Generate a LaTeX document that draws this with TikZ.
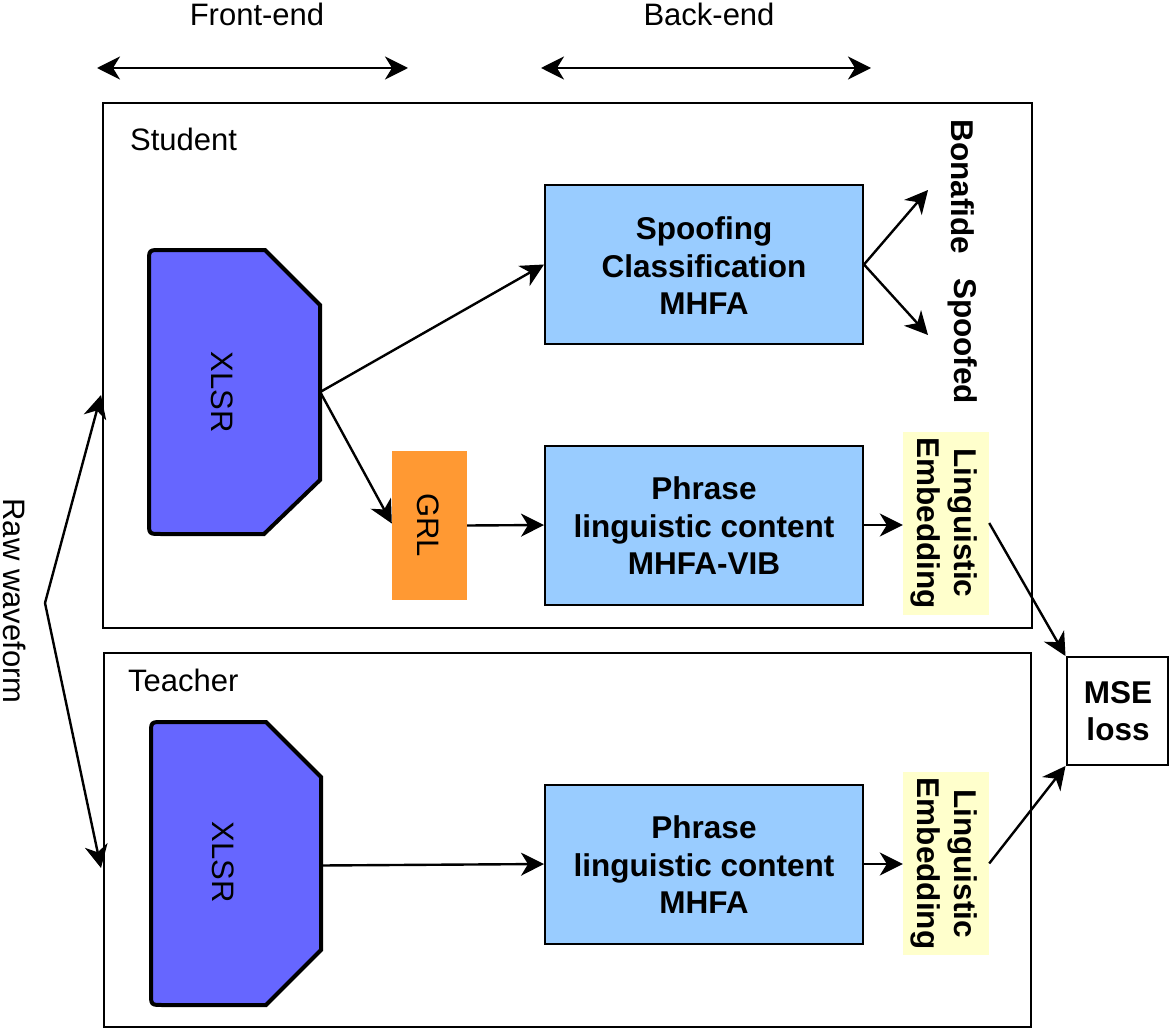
\documentclass[tikz,border=0pt]{standalone}
\usepackage{fontspec}
\setmainfont{Liberation Sans}
\usetikzlibrary{arrows.meta,calc}
\definecolor{xlsrblue}{HTML}{6666FF}
\definecolor{lightblue}{HTML}{99CCFF}
\definecolor{grlorange}{HTML}{FF9933}
\definecolor{embyellow}{HTML}{FFFFCC}
\begin{document}
\begin{tikzpicture}[x=1pt,y=-1pt,
  txt/.style={font=\fontsize{31}{37}\selectfont, inner sep=0pt},
  btxt/.style={font=\bfseries\fontsize{31.5}{37.5}\selectfont, align=center, inner sep=0pt},
  frame/.style={draw, line width=2.5pt},
  blue box/.style={draw, line width=2pt, fill=lightblue, minimum width=318pt, minimum height=159pt, inner sep=0pt},
  emb/.style={fill=embyellow, minimum width=86pt, minimum height=183pt, inner sep=0pt},
  xlsrshape/.style={draw, line width=4pt, fill=xlsrblue, line join=miter},
  arr/.style={line width=2.4pt, -{Stealth[length=23pt,width=23pt,inset=7pt]}},
  darr/.style={line width=2.4pt, {Stealth[length=23pt,width=23pt,inset=7pt]}-{Stealth[length=23pt,width=23pt,inset=7pt]}}
]
\useasboundingbox[fill=white] (0,0) rectangle (1170,1030);

% top labels and extent arrows
\node[txt] (fe) at (257,14) {Front-end};
\node[txt] (be) at (709,14) {Back-end};
\coordinate (feL) at (97,68);
\coordinate (feR) at (408,68);
\coordinate (beL) at (541,68);
\coordinate (beR) at (871,68);
\draw[darr] (feL) -- (feR);
\draw[darr] (beL) -- (beR);

% frames
\node[frame, minimum width=929pt, minimum height=525pt, inner sep=0pt] (student) at (567.5,365.5) {};
\node[frame, minimum width=927pt, minimum height=374pt, inner sep=0pt] (teacher) at (567.5,840) {};
\node[txt, anchor=west] (stl) at (130,139) {Student};
\node[txt, anchor=west] (tel) at (128,680) {Teacher};

% student XLSR
\draw[xlsrshape] (161,534) .. controls (149,534) .. (149,522) -- (149,262)
  .. controls (149,250) .. (161,250) -- (265,250) -- (320,305) -- (320,480) -- (264,534) -- cycle;
\node[minimum width=171pt, minimum height=284pt, inner sep=0pt] (xs) at (234.5,392) {};
\node[txt, rotate=-90] (xslabel) at (222,392) {XLSR};

% teacher XLSR
\draw[xlsrshape] (163,1005) .. controls (151,1005) .. (151,993) -- (151,734)
  .. controls (151,722) .. (163,722) -- (266,722) -- (321,777) -- (321,950) -- (266,1005) -- cycle;
\node[minimum width=170pt, minimum height=283pt, inner sep=0pt] (xt) at (236,863.5) {};
\node[txt, rotate=-90] (xtlabel) at (223,862) {XLSR};

% back-end boxes
\node[blue box] (spoof) at (704,264.5) {};
\node[btxt] at (704,266) {Spoofing\\Classification\\MHFA};
\node[blue box] (vib) at (704,525) {};
\node[btxt] at (704,526) {Phrase\\linguistic content\\MHFA-VIB};
\node[blue box] (tph) at (704,864) {};
\node[btxt] at (704,865) {Phrase\\linguistic content\\MHFA};

% GRL
\node[fill=grlorange, minimum width=75pt, minimum height=149pt, inner sep=0pt] (grl) at (429.5,525.5) {};
\node[txt, rotate=-90] at (428,525) {GRL};

% embeddings
\node[emb] (le1) at (946,523) {};
\node[btxt, rotate=-90] at (944,523) {Linguistic\\Embedding};
\node[emb] (le2) at (946,863.5) {};
\node[btxt, rotate=-90] at (944,863.5) {Linguistic\\Embedding};

% outputs
\node[btxt, rotate=-90] (bona) at (963,187) {Bonafide};
\node[btxt, rotate=-90] (spd) at (963,341) {Spoofed};
\coordinate (bonaT) at (928,190);
\coordinate (spdT) at (928,335);

% MSE
\node[draw, line width=2pt, minimum width=101pt, minimum height=108pt, inner sep=0pt] (mse) at (1117,711) {};
\node[btxt] at (1118,711) {MSE\\loss};

% raw waveform
\node[txt, rotate=-90] (raw) at (15,601) {Raw waveform};
\coordinate (split) at (45,603);
\coordinate (inS) at (101,395);
\coordinate (inT) at (101,868);
\draw[arr] (split) -- (inS);
\draw[arr] (split) -- (inT);

% connectors
\draw[arr] (xs.east) -- (spoof.west);
\draw[arr] (xs.east) -- ($(grl.west)+(0,-2)$);
\draw[arr] (grl.east) -- (vib.west);
\draw[arr] (vib.east) -- (le1.west |- vib.east);
\draw[arr] (spoof.east) -- (bonaT);
\draw[arr] (spoof.east) -- (spdT);
\draw[arr] (le1.east) -- (mse.north west);
\draw[arr] ($(xt.east)+(0,2)$) -- (tph.west);
\draw[arr] (tph.east) -- (le2.west |- tph.east);
\draw[arr] (le2.east) -- (mse.south west);
\end{tikzpicture}
\end{document}
